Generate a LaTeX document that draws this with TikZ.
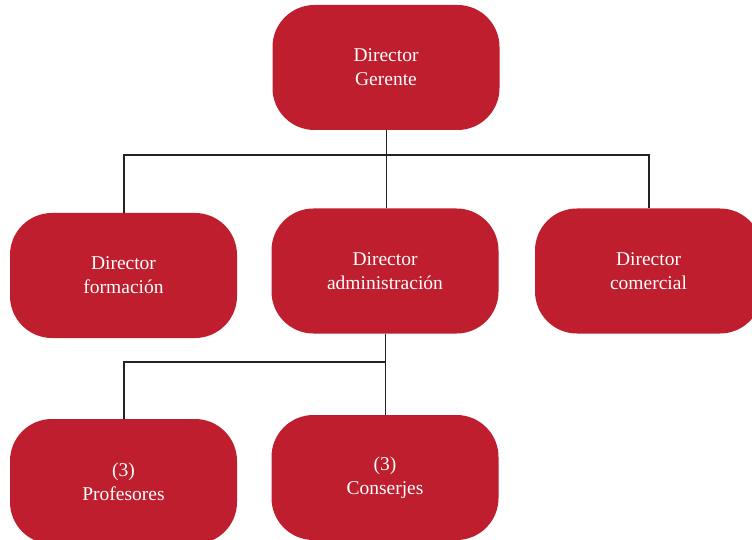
\documentclass[tikz,border=0pt]{standalone}
\usepackage{fontspec}
\setmainfont{Liberation Serif}
\definecolor{boxred}{HTML}{BE1E2D}
\definecolor{linegray}{HTML}{222222}
\begin{document}
\begin{tikzpicture}[x=1pt,y=1pt,
  orgbox/.style={draw=none,fill=boxred,rounded corners=42pt,minimum width=227pt,minimum height=125pt,
    text=white,align=center,font=\fontsize{19.5}{24}\selectfont,inner sep=0pt},
  thickline/.style={draw=linegray,line width=2pt},
  thinline/.style={draw=linegray,line width=1pt}]
\useasboundingbox (0,0) rectangle (752,539);
\clip (0,0) rectangle (752,539);
\node[orgbox] (top) at (386,471.5) {Director\\Gerente};
\node[orgbox] (form) at (123.5,263.5) {Director\\formación};
\node[orgbox] (adm) at (385,268) {Director\\administración};
\node[orgbox] (com) at (648.5,268) {Director\\comercial};
\node[orgbox] (prof) at (123.5,57.5) {(3)\\Profesores};
\node[orgbox] (cons) at (385,61.5) {(3)\\Conserjes};
\coordinate (j1) at (386,384);
\coordinate (j2) at (386,177);
\draw[thickline] (form.north) |- (j1) -| (com.north);
\draw[thinline] (top.south) -- (top.south |- adm.north);
\draw[thickline] (prof.north) |- (j2);
\draw[thinline] (adm.south) -- (adm.south |- cons.north);
\end{tikzpicture}
\end{document}
